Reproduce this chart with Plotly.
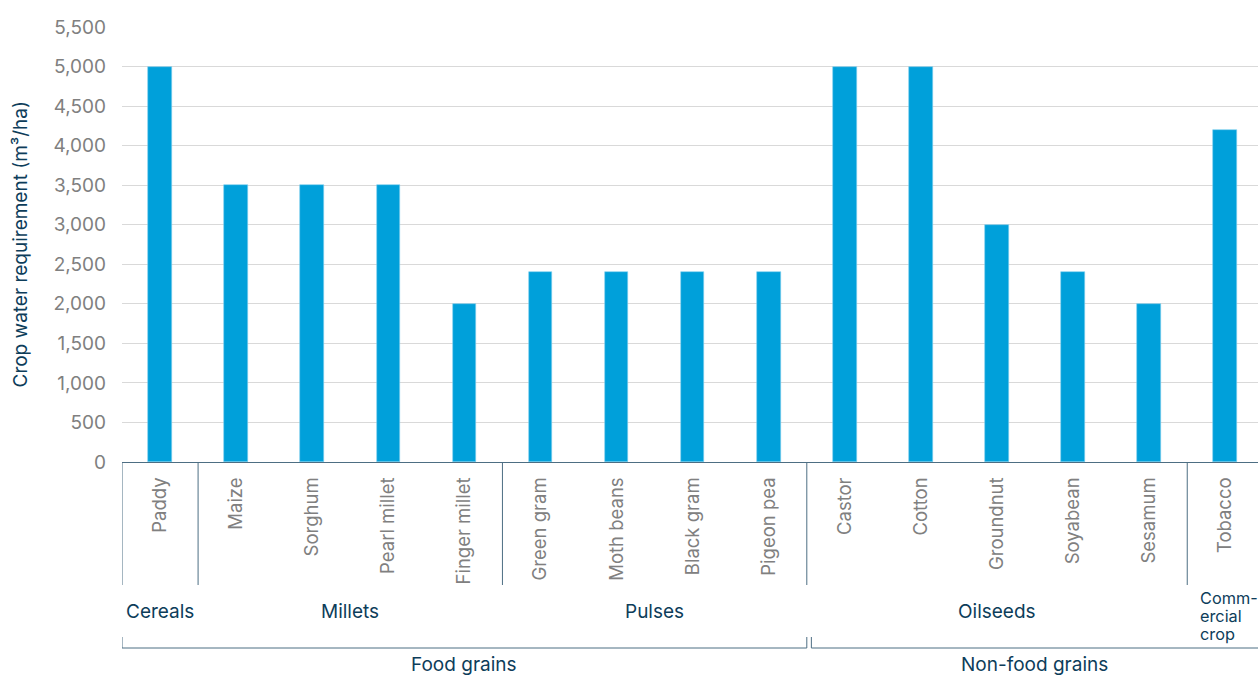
import plotly.graph_objects as go

# Crop water requirement by crop (m³/ha)
crops = ["Paddy", "Maize", "Sorghum", "Pearl millet", "Finger millet",
         "Green gram", "Moth beans", "Black gram", "Pigeon pea",
         "Castor", "Cotton", "Groundnut", "Soyabean", "Sesamum", "Tobacco"]
water_req = [5000, 3500, 3500, 3500, 2000,
             2400, 2400, 2400, 2400,
             5000, 5000, 3000, 2400, 2000, 4200]

# Crop groups: (label lines, first index, last index)
groups = [(["Cereals"], 0, 0), (["Millets"], 1, 4), (["Pulses"], 5, 8),
          (["Oilseeds"], 9, 13), (["Comm-", "ercial", "crop"], 14, 14)]
# Top-level classes: (label, first index, last index)
classes = [("Food grains", 0, 8), ("Non-food grains", 9, 14)]

y_ticks = list(range(0, 5501, 500))

W, H = 1258, 675
L, R, T, B = 122, 0, 27, 213
PH = H - T - B

BAR = "#00a0da"
NAVY = "#0d3d5a"
GREY = "#808080"
LINE = "#4d6e83"
FONT = "Inter"


def py(pix):
    """Pixel row -> paper y."""
    return (H - B - pix) / PH


fig = go.Figure(go.Bar(
    x=crops, y=water_req, width=0.31,
    marker=dict(color=BAR, line=dict(color="#7fd0ef", width=0.6)),
))

shapes = []
# vertical separators between groups
bounds = sorted({g[1] - 0.5 for g in groups})
for b in bounds:
    shapes.append(dict(type="line", xref="x", yref="paper",
                       x0=b, x1=b, y0=0, y1=py(585),
                       line=dict(color=LINE, width=1)))

annotations = []
for lines, a, b in groups:
    if len(lines) > 1:
        # wrapped label, left aligned, set line by line
        for k, ln in enumerate(lines):
            annotations.append(dict(text=ln, xref="x", yref="paper",
                                    x=a - 0.355, y=py(598 + 18 * k),
                                    xanchor="left", yanchor="middle",
                                    showarrow=False,
                                    font=dict(family=FONT, size=16.3,
                                              color=NAVY)))
    else:
        annotations.append(dict(text=lines[0], xref="x", yref="paper",
                                x=(a + b) / 2, y=py(611), xanchor="center",
                                yanchor="middle", showarrow=False,
                                font=dict(family=FONT, size=19, color=NAVY)))

# brackets for top-level classes
x_end = 14.43
for i, (label, a, b) in enumerate(classes):
    x0 = a - 0.5 + (0.06 if i == 1 else 0)
    x1 = b + 0.5 if b < len(crops) - 1 else x_end
    shapes.append(dict(type="line", xref="x", yref="paper",
                       x0=x0, x1=x1, y0=py(648), y1=py(648),
                       line=dict(color=LINE, width=1)))
    shapes.append(dict(type="line", xref="x", yref="paper",
                       x0=x0, x1=x0, y0=py(637), y1=py(648),
                       line=dict(color=LINE, width=1)))
    if i == 0:
        shapes.append(dict(type="line", xref="x", yref="paper",
                           x0=x1, x1=x1, y0=py(637), y1=py(648),
                           line=dict(color=LINE, width=1)))
    annotations.append(dict(text=label, xref="x", yref="paper",
                            x=(x0 + x1) / 2, y=py(664), xanchor="center",
                            yanchor="middle", showarrow=False,
                            font=dict(family=FONT, size=19, color=NAVY)))

# y-axis title
annotations.append(dict(text="Crop water requirement (m³/ha)",
                        xref="paper", yref="paper", x=(20 - L) / (W - L - R),
                        y=0.5, xanchor="center", yanchor="middle",
                        textangle=-90, showarrow=False,
                        font=dict(family=FONT, size=19, color=NAVY)))

fig.update_layout(
    width=W, height=H,
    margin=dict(l=L, r=R, t=T, b=B),
    paper_bgcolor="white", plot_bgcolor="white",
    showlegend=False,
    bargap=0,
    font=dict(family=FONT),
    shapes=shapes,
    annotations=annotations,
    xaxis=dict(range=[-0.5, x_end], showline=True, linecolor=LINE,
               linewidth=1, showgrid=False, tickangle=-90,
               ticks="", ticklabelstandoff=7,
               tickfont=dict(family=FONT, size=18.5, color=GREY)),
    yaxis=dict(range=[0, 5500], tickvals=y_ticks,
               ticktext=[f"{v:,}" for v in y_ticks],
               showgrid=True, gridcolor="#d9d9d9", gridwidth=1,
               zeroline=False, showline=False, ticks="",
               ticklabelstandoff=15,
               tickfont=dict(family=FONT, size=19, color=GREY)),
)

fig.write_html("out.html")
